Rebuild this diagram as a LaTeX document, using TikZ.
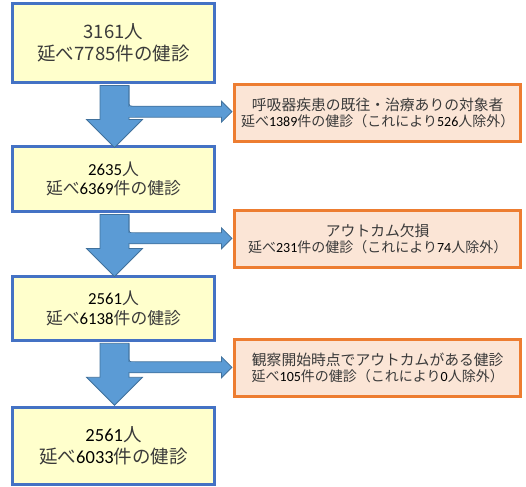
\documentclass[tikz,border=0pt]{standalone}
\usepackage{fontspec}
\setmainfont{Noto Sans CJK JP}
\newfontfamily\latn{Carlito}
\usetikzlibrary{calc}
\definecolor{bluebd}{HTML}{4472C4}
\definecolor{yelfill}{HTML}{FFFFCC}
\definecolor{orbd}{HTML}{ED7D31}
\definecolor{orfill}{HTML}{FBE5D6}
\definecolor{arfill}{HTML}{5B9BD5}
\definecolor{arline}{HTML}{41719C}
\definecolor{txt}{HTML}{3A3A3A}
\newcommand\num[1]{{\latn\color{black}#1}}
\newcommand\flowstep[2]{%
  \coordinate (#1-a) at ($(#1.south)+(15.5,1.5)$);
  \coordinate (#1-m) at ($(#2.west)+(-1.5,-1)$);
  \coordinate (#1-c) at ($(#1-a |- #1-m)+(0,-5.5)$);
  \draw[blockarrow] ($(#1.south)+(-13.5,1.5)$) -- ++(0,34) -- ++(-13.5,0)
     -- ++(28,28) -- ++(28,-28) -- ++(-13.5,0) -- ++(0,-34) -- cycle;
  \draw[blockarrow] (#1-a) -- ($(#1-c)+(0,-5)$) .. controls (#1-c) .. ($(#1-c)+(5,0)$)
     -- ($(#1-m)+(-10.5,-5.5)$) -- ($(#1-m)+(-10.5,-10.5)$) -- (#1-m)
     -- ($(#1-m)+(-10.5,10.5)$) -- ($(#1-m)+(-10.5,5.5)$) -- ($(#1-a |- #1-m)+(0,5.5)$);
  \fill[arfill] ($(#1-a |- #1-m)+(-4,-5)$) rectangle ($(#1-a |- #1-m)+(6,5)$);
}
\begin{document}
\begin{tikzpicture}[x=1pt,y=-1pt,
  mainbox/.style={draw=bluebd, fill=yelfill, line width=3pt, inner sep=0pt,
    minimum width=202pt, align=center, text=txt},
  bigtext/.style={font=\fontsize{18.5}{22}\selectfont},
  midtext/.style={font=\fontsize{16.8}{19.5}\selectfont},
  exclbox/.style={draw=orbd, fill=orfill, line width=3pt, minimum width=285.5pt,
    minimum height=56.7pt, inner sep=0pt, align=center, text=txt,
    font=\fontsize{14.8}{16}\selectfont},
  blockarrow/.style={fill=arfill, draw=arline, line width=0.8pt, line join=miter},
]
\useasboundingbox (0,0) rectangle (526,486);
\node[mainbox, bigtext, minimum height=79pt] (b1) at (113.5,43) {3161人\\延べ7785件の健診};
\node[mainbox, midtext, minimum height=65pt] (b2) at (113.5,179) {\num{2635}人\\延べ\num{6369}件の健診};
\node[mainbox, midtext, minimum height=63.5pt] (b3) at (113.5,308.5) {\num{2561}人\\延べ\num{6138}件の健診};
\node[mainbox, bigtext, minimum height=77pt] (b4) at (113.5,446) {\num{2561}人\\延べ\num{6033}件の健診};
\node[exclbox] (e1) at (377.7,112.7) {呼吸器疾患の既往・治療ありの対象者\\{\fontsize{14}{16}\selectfont 延べ\num{1389}件の健診（これにより\num{526}人除外）}};
\node[exclbox] (e2) at (377.7,239.3) {アウトカム欠損\\{\fontsize{14}{16}\selectfont 延べ\num{231}件の健診（これにより\num{74}人除外）}};
\node[exclbox] (e3) at (377.7,368.3) {観察開始時点でアウトカムがある健診\\{\fontsize{14}{16}\selectfont 延べ\num{105}件の健診（これにより\num{0}人除外）}};
\flowstep{b1}{e1}
\flowstep{b2}{e2}
\flowstep{b3}{e3}
\end{tikzpicture}
\end{document}
